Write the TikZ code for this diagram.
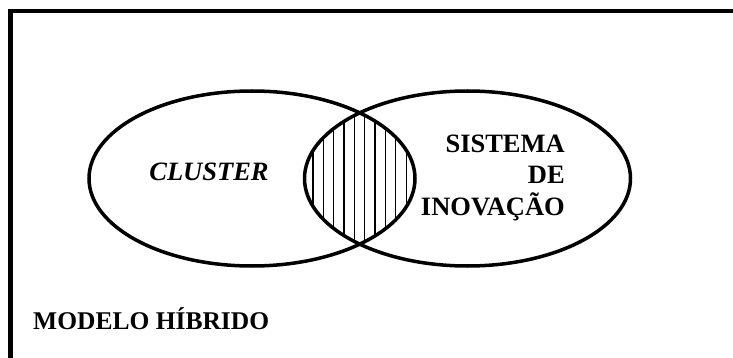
\documentclass[tikz,border=0pt]{standalone}
\usepackage{fontspec}
\setmainfont{Liberation Serif}
\usetikzlibrary{shapes.geometric}
\begin{document}
\begin{tikzpicture}[x=1pt,y=-1pt,
  setcircle/.style={draw,ellipse,line width=3.5pt,minimum width=326pt,minimum height=175pt,inner sep=0pt},
  lbl/.style={font=\fontsize{26.5}{31.5}\selectfont\bfseries,inner sep=0pt}]
\useasboundingbox (0,0) rectangle (733,358);
\draw[line width=4.5pt] (10.5,360) -- (10.5,11) -- (740,11);
\node[setcircle] (cl) at (252,178.5) {};
\node[setcircle] (si) at (467.5,178.5) {};
\begin{scope}
  \clip (252,178.5) ellipse [x radius=163pt, y radius=87.5pt];
  \clip (467.5,178.5) ellipse [x radius=162.5pt, y radius=87.5pt];
  \foreach \i in {0,...,9} \draw[line width=1.3pt] (313+10.35*\i,80) -- (313+10.35*\i,280);
\end{scope}
\node[lbl,font=\fontsize{26.5}{31.5}\selectfont\bfseries\itshape,anchor=base] (clt) at (209,181) {CLUSTER};
\node[lbl,align=right,anchor=base east] (sit) at (565,215) {SISTEMA\\DE\\INOVAÇÃO};
\node[lbl,font=\fontsize{25.5}{30}\selectfont\bfseries,anchor=base west] (mh) at (33,329) {MODELO HÍBRIDO};
\end{tikzpicture}
\end{document}
